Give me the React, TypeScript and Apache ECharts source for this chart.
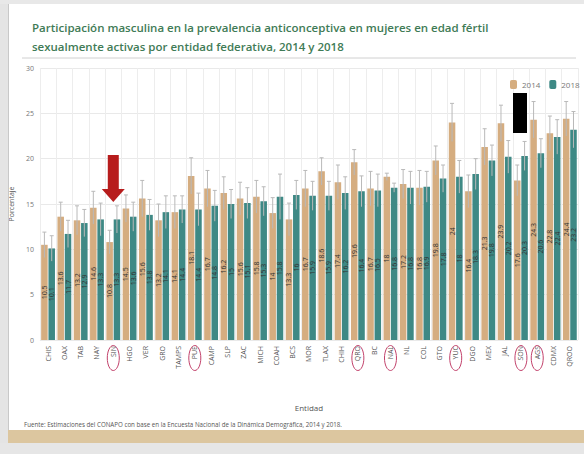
import React, { useEffect, useRef } from "react";
import * as echarts from "echarts";

const categories = ["CHIS", "OAX", "TAB", "NAY", "SIN", "HGO", "VER", "GRO", "TAMPS", "PUE", "CAMP", "SLP", "ZAC", "MICH", "COAH", "BCS", "MOR", "TLAX", "CHIH", "QRO", "BC", "NAL", "NL", "COL", "GTO", "YUC", "DGO", "MEX", "JAL", "SON", "AGS", "CDMX", "QROO"];
const values2014 = [10.5, 13.6, 13.2, 14.6, 10.8, 14.5, 15.6, 13.2, 14.1, 18.1, 16.7, 16.2, 15.6, 15.8, 14.0, 13.3, 16.7, 18.6, 17.4, 19.6, 16.7, 18.0, 17.2, 16.8, 19.8, 24.0, 16.4, 21.3, 23.9, 17.6, 24.3, 22.8, 24.4];
const values2018 = [10.1, 11.7, 12.9, 13.3, 13.3, 13.6, 13.8, 14.1, 14.4, 14.4, 14.8, 15.0, 15.1, 15.3, 15.8, 16.0, 15.9, 15.9, 16.2, 16.4, 16.5, 16.8, 16.8, 16.9, 17.8, 18.0, 18.3, 19.8, 20.2, 20.3, 20.6, 22.4, 23.2];
const upper2014 = [11.9, 15.2, 14.8, 16.4, 12.1, 16.0, 17.6, 15.0, 15.9, 20.1, 18.7, 18.0, 17.4, 17.6, 15.7, 15.1, 18.7, 20.1, 19.3, 21.0, 18.6, 18.4, 18.8, 18.7, 21.4, 26.1, 18.2, 23.3, 25.9, 19.3, 26.3, 24.7, 26.3];
const upper2018 = [11.5, 13.2, 14.4, 15.1, 14.8, 15.2, 15.5, 15.9, 15.9, 16.2, 16.5, 16.6, 16.8, 16.9, 18.3, 17.6, 17.5, 17.5, 18.0, 18.1, 18.3, 17.3, 18.6, 18.6, 19.3, 19.8, 20.0, 21.5, 22.0, 21.9, 22.2, 24.3, 25.2];
const circled = ["SIN", "PUE", "QRO", "NAL", "YUC", "SON", "AGS"];
const arrowAt = "SIN";
const yTicks = { min: 0, max: 30, interval: 5 };

const C2014 = "#d5ad80";
const C2018 = "#3e8985";
const BAR_W = 0.4;
const GAP = 0.12;

function errorSeries(name: string, vals: number[], ups: number[], side: number) {
  return {
    type: "custom",
    name: name + "-err",
    silent: true,
    z: 5,
    data: vals.map((v, i) => [i, 2 * v - ups[i], ups[i]]),
    encode: { x: 0, y: [1, 2] },
    renderItem: (params: any, api: any) => {
      const i = api.value(0);
      const lo = api.coord([i, api.value(1)]);
      const hi = api.coord([i, api.value(2)]);
      const band = api.size([1, 0])[0];
      const bw = band * BAR_W;
      const x = lo[0] + side * (bw + bw * GAP) / 2;
      const cap = 2;
      const style = { stroke: "#b9b9b9", lineWidth: 1 };
      return {
        type: "group",
        children: [
          { type: "line", shape: { x1: x, y1: lo[1], x2: x, y2: hi[1] }, style },
          { type: "line", shape: { x1: x - cap, y1: hi[1], x2: x + cap, y2: hi[1] }, style },
        ],
      };
    },
  };
}

export default function App() {
  const ref = useRef<HTMLDivElement>(null);
  useEffect(() => {
    document.body.style.margin = "0";
    const chart = echarts.init(ref.current!, null, { renderer: "svg" });
    const labelCfg = {
      show: true,
      position: "inside",
      rotate: 90,
      fontSize: 7,
      color: "#333",
      formatter: (p: any) => String(p.value),
    };
    chart.setOption({
      animation: false,
      backgroundColor: "#ffffff",
      textStyle: { fontFamily: "Open Sans" },
      title: {
        text: "Participación masculina en la prevalencia anticonceptiva en mujeres en edad fértil\nsexualmente activas por entidad federativa, 2014 y 2018",
        left: 27,
        top: 13,
        textStyle: { fontSize: 11.5, fontWeight: 600, color: "#3f7b56", lineHeight: 19, fontFamily: "Open Sans" },
      },
      legend: {
        data: [
          { name: "2014", itemStyle: { color: C2014 } },
          { name: "2018", itemStyle: { color: C2018 } },
        ],
        orient: "horizontal",
        left: 510,
        top: 80,
        width: 90,
        padding: 0,
        itemWidth: 7,
        itemHeight: 9,
        itemGap: 9,
        textStyle: { fontSize: 8, color: "#777" },
      },
      grid: { left: 35, right: 6, top: 68, bottom: 114 },
      xAxis: {
        type: "category",
        data: categories,
        name: "Entidad",
        nameLocation: "middle",
        nameGap: 63,
        nameTextStyle: { fontSize: 8, color: "#555" },
        axisLine: { show: false },
        axisTick: { show: false },
        axisLabel: { rotate: 90, fontSize: 7, color: "#555", margin: 6, interval: 0 },
        splitLine: { show: true, lineStyle: { color: "#ededed", width: 1 } },
      },
      yAxis: {
        type: "value",
        min: yTicks.min,
        max: yTicks.max,
        interval: yTicks.interval,
        name: "Porcentaje",
        nameLocation: "middle",
        nameGap: 20,
        nameTextStyle: { fontSize: 7, color: "#555" },
        axisLabel: { fontSize: 7, color: "#777", margin: 6 },
        splitLine: { lineStyle: { color: "#e9e9e9" } },
      },
      series: [
        { type: "bar", name: "2014", data: values2014, barWidth: BAR_W * 100 + "%", barGap: GAP * 100 + "%", itemStyle: { color: C2014 }, label: labelCfg },
        { type: "bar", name: "2018", data: values2018, barWidth: BAR_W * 100 + "%", barGap: GAP * 100 + "%", itemStyle: { color: C2018 }, label: labelCfg },
        errorSeries("2014", values2014, upper2014, -1),
        errorSeries("2018", values2018, upper2018, 1),
      ],
    });

    const px = (name: string) => chart.convertToPixel({ xAxisIndex: 0 }, categories.indexOf(name)) as number;
    const ax = px(arrowAt);
    const circles = circled.map((n, k) => ({
      type: "ellipse",
      id: "c" + k,
      shape: { cx: px(n), cy: 358, rx: 6, ry: 12.5 },
      style: { fill: "none", stroke: "#c2416b", lineWidth: 1 },
      z: 20,
    }));
    chart.setOption({
      graphic: [
        { type: "rect", id: "lborder", shape: { x: 0, y: 0, width: 8, height: 454 }, style: { fill: "#e4e4e4" }, z: 1 },
        { type: "line", id: "lline", shape: { x1: 8.5, y1: 4, x2: 8.5, y2: 446 }, style: { stroke: "#c8c8c8", lineWidth: 1 }, z: 2 },
        { type: "rect", id: "tborder", shape: { x: 0, y: 0, width: 584, height: 4 }, style: { fill: "#e8e8e8" }, z: 1 },
        { type: "line", id: "sep", shape: { x1: 22, y1: 58, x2: 576, y2: 58 }, style: { stroke: "#d0d0d0", lineWidth: 1 }, z: 2 },
        { type: "text", id: "src", x: 24, y: 421, style: { text: "Fuente: Estimaciones del CONAPO con base en la Encuesta Nacional de la Dinámica Demográfica, 2014 y 2018.", fontSize: 6.2, fill: "#555", fontFamily: "Open Sans" }, z: 3 },
        { type: "rect", id: "band", shape: { x: 8, y: 430, width: 576, height: 13 }, style: { fill: "#dcc69f" }, z: 2 },
        { type: "rect", id: "bottom", shape: { x: 0, y: 443, width: 584, height: 11 }, style: { fill: "#e6e6e6" }, z: 2 },
        { type: "rect", id: "redact", shape: { x: 513, y: 93, width: 14, height: 40 }, style: { fill: "#000" }, z: 20 },
        {
          type: "polygon",
          id: "arrow",
          shape: {
            points: [
              [ax - 5.5, 155], [ax + 5.5, 155], [ax + 5.5, 189], [ax + 11.5, 189], [ax, 202], [ax - 11.5, 189], [ax - 5.5, 189],
            ],
          },
          style: { fill: "#b71c1c" },
          z: 20,
        },
        ...circles,
      ],
    });
    return () => chart.dispose();
  }, []);
  return <div ref={ref} style={{ width: 584, height: 454 }} />;
}
